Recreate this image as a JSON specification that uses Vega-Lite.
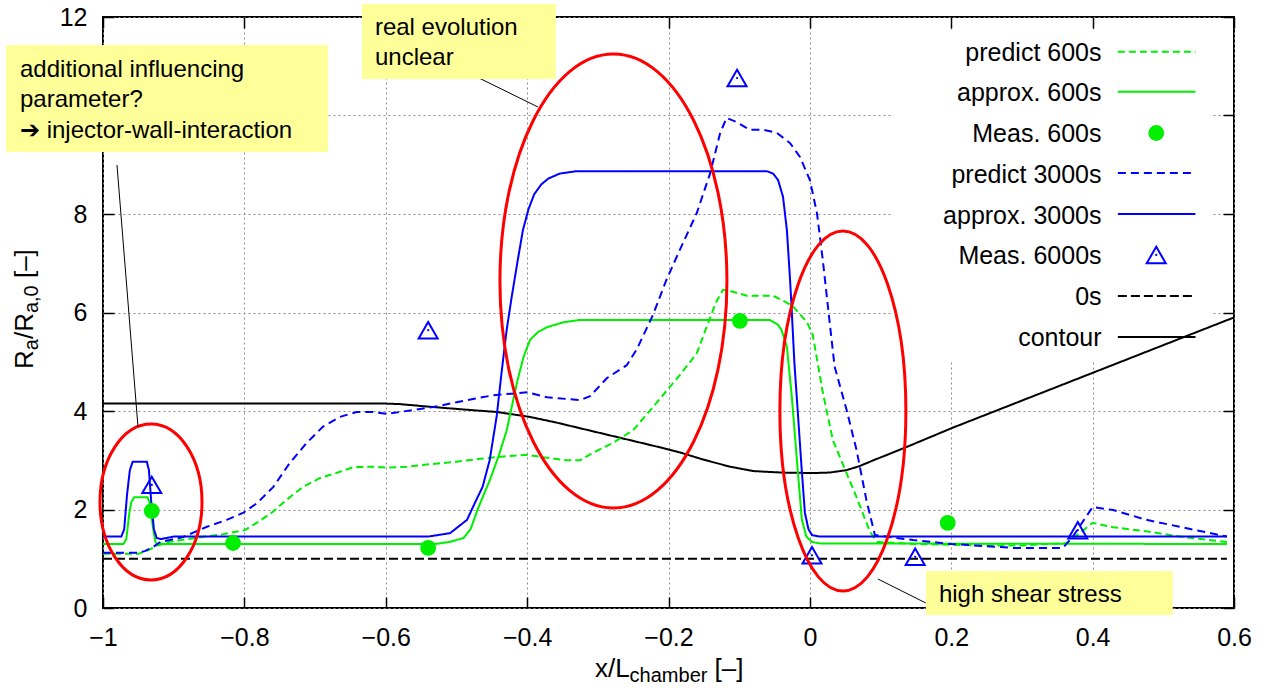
{
  "$schema": "https://vega.github.io/schema/vega-lite/v6.json",
  "width": 1131,
  "height": 591,
  "autosize": {"type": "none"},
  "padding": {"left": 103, "top": 17, "right": 37, "bottom": 80},
  "background": "#ffffff",
  "config": {
    "view": {"stroke": "#000000", "strokeWidth": 2},
    "font": "Liberation Sans",
    "axis": {
      "labelFont": "Liberation Sans", "labelFontSize": 25, "labelColor": "#000000",
      "labelFlush": false, "labelOverlap": false, "domain": false,
      "tickColor": "#000000", "tickWidth": 1.5, "tickSize": -11,
      "gridColor": "#8c8c8c", "gridDash": [2, 3], "gridWidth": 1
    },
    "axisBottom": {"labelPadding": 28},
    "axisLeft": {"labelPadding": 27}
  },
  "datasets": {
    "curves": [
      {"series": "0s", "x": -1, "y": 1}, {"series": "0s", "x": 0.59, "y": 1},
      {"series": "contour", "x": -1, "y": 4.15}, {"series": "contour", "x": -0.6, "y": 4.15}, {"series": "contour", "x": -0.58, "y": 4.14}, {"series": "contour", "x": -0.533, "y": 4.08}, {"series": "contour", "x": -0.48, "y": 4.02}, {"series": "contour", "x": -0.443, "y": 3.98}, {"series": "contour", "x": -0.396, "y": 3.88}, {"series": "contour", "x": -0.36, "y": 3.77}, {"series": "contour", "x": -0.325, "y": 3.65}, {"series": "contour", "x": -0.29, "y": 3.53}, {"series": "contour", "x": -0.255, "y": 3.41}, {"series": "contour", "x": -0.22, "y": 3.29}, {"series": "contour", "x": -0.184, "y": 3.16}, {"series": "contour", "x": -0.15, "y": 3.01}, {"series": "contour", "x": -0.113, "y": 2.87}, {"series": "contour", "x": -0.08, "y": 2.78}, {"series": "contour", "x": -0.04, "y": 2.75}, {"series": "contour", "x": 0.004, "y": 2.74}, {"series": "contour", "x": 0.028, "y": 2.75}, {"series": "contour", "x": 0.052, "y": 2.8}, {"series": "contour", "x": 0.07, "y": 2.88}, {"series": "contour", "x": 0.09, "y": 3.0}, {"series": "contour", "x": 0.137, "y": 3.27}, {"series": "contour", "x": 0.202, "y": 3.66}, {"series": "contour", "x": 0.6, "y": 5.9},
      {"series": "predict 600s", "x": -1, "y": 1.1}, {"series": "predict 600s", "x": -0.95, "y": 1.1}, {"series": "predict 600s", "x": -0.935, "y": 1.18}, {"series": "predict 600s", "x": -0.92, "y": 1.3}, {"series": "predict 600s", "x": -0.9, "y": 1.36}, {"series": "predict 600s", "x": -0.86, "y": 1.44}, {"series": "predict 600s", "x": -0.83, "y": 1.5}, {"series": "predict 600s", "x": -0.8, "y": 1.58}, {"series": "predict 600s", "x": -0.78, "y": 1.75}, {"series": "predict 600s", "x": -0.76, "y": 1.95}, {"series": "predict 600s", "x": -0.74, "y": 2.2}, {"series": "predict 600s", "x": -0.717, "y": 2.46}, {"series": "predict 600s", "x": -0.693, "y": 2.64}, {"series": "predict 600s", "x": -0.67, "y": 2.74}, {"series": "predict 600s", "x": -0.646, "y": 2.86}, {"series": "predict 600s", "x": -0.62, "y": 2.87}, {"series": "predict 600s", "x": -0.6, "y": 2.85}, {"series": "predict 600s", "x": -0.57, "y": 2.87}, {"series": "predict 600s", "x": -0.537, "y": 2.92}, {"series": "predict 600s", "x": -0.5, "y": 2.97}, {"series": "predict 600s", "x": -0.467, "y": 3.03}, {"series": "predict 600s", "x": -0.43, "y": 3.08}, {"series": "predict 600s", "x": -0.4, "y": 3.11}, {"series": "predict 600s", "x": -0.372, "y": 3.05}, {"series": "predict 600s", "x": -0.345, "y": 3.0}, {"series": "predict 600s", "x": -0.325, "y": 3.0}, {"series": "predict 600s", "x": -0.307, "y": 3.15}, {"series": "predict 600s", "x": -0.279, "y": 3.35}, {"series": "predict 600s", "x": -0.25, "y": 3.61}, {"series": "predict 600s", "x": -0.222, "y": 4.08}, {"series": "predict 600s", "x": -0.184, "y": 4.73}, {"series": "predict 600s", "x": -0.16, "y": 5.17}, {"series": "predict 600s", "x": -0.146, "y": 5.71}, {"series": "predict 600s", "x": -0.133, "y": 6.2}, {"series": "predict 600s", "x": -0.123, "y": 6.46}, {"series": "predict 600s", "x": -0.109, "y": 6.42}, {"series": "predict 600s", "x": -0.089, "y": 6.34}, {"series": "predict 600s", "x": -0.052, "y": 6.34}, {"series": "predict 600s", "x": -0.042, "y": 6.27}, {"series": "predict 600s", "x": -0.024, "y": 6.13}, {"series": "predict 600s", "x": -0.004, "y": 5.8}, {"series": "predict 600s", "x": 0.004, "y": 5.55}, {"series": "predict 600s", "x": 0.018, "y": 4.4}, {"series": "predict 600s", "x": 0.0325, "y": 3.41}, {"series": "predict 600s", "x": 0.066, "y": 2.25}, {"series": "predict 600s", "x": 0.085, "y": 1.55}, {"series": "predict 600s", "x": 0.095, "y": 1.34}, {"series": "predict 600s", "x": 0.15, "y": 1.3}, {"series": "predict 600s", "x": 0.25, "y": 1.27}, {"series": "predict 600s", "x": 0.3, "y": 1.27}, {"series": "predict 600s", "x": 0.363, "y": 1.32}, {"series": "predict 600s", "x": 0.38, "y": 1.5}, {"series": "predict 600s", "x": 0.4, "y": 1.73}, {"series": "predict 600s", "x": 0.429, "y": 1.64}, {"series": "predict 600s", "x": 0.48, "y": 1.55}, {"series": "predict 600s", "x": 0.523, "y": 1.45}, {"series": "predict 600s", "x": 0.59, "y": 1.34},
      {"series": "approx. 600s", "x": -1, "y": 1.3}, {"series": "approx. 600s", "x": -0.971, "y": 1.3}, {"series": "approx. 600s", "x": -0.967, "y": 1.4}, {"series": "approx. 600s", "x": -0.963, "y": 1.9}, {"series": "approx. 600s", "x": -0.96, "y": 2.15}, {"series": "approx. 600s", "x": -0.956, "y": 2.25}, {"series": "approx. 600s", "x": -0.937, "y": 2.25}, {"series": "approx. 600s", "x": -0.933, "y": 2.1}, {"series": "approx. 600s", "x": -0.93, "y": 1.7}, {"series": "approx. 600s", "x": -0.926, "y": 1.35}, {"series": "approx. 600s", "x": -0.922, "y": 1.27}, {"series": "approx. 600s", "x": -0.915, "y": 1.3}, {"series": "approx. 600s", "x": -0.53, "y": 1.3}, {"series": "approx. 600s", "x": -0.51, "y": 1.34}, {"series": "approx. 600s", "x": -0.49, "y": 1.42}, {"series": "approx. 600s", "x": -0.48, "y": 1.6}, {"series": "approx. 600s", "x": -0.47, "y": 2.0}, {"series": "approx. 600s", "x": -0.46, "y": 2.35}, {"series": "approx. 600s", "x": -0.4526, "y": 2.6}, {"series": "approx. 600s", "x": -0.44, "y": 3.1}, {"series": "approx. 600s", "x": -0.429, "y": 3.6}, {"series": "approx. 600s", "x": -0.414, "y": 4.6}, {"series": "approx. 600s", "x": -0.405, "y": 5.1}, {"series": "approx. 600s", "x": -0.396, "y": 5.44}, {"series": "approx. 600s", "x": -0.385, "y": 5.6}, {"series": "approx. 600s", "x": -0.372, "y": 5.7}, {"series": "approx. 600s", "x": -0.349, "y": 5.8}, {"series": "approx. 600s", "x": -0.325, "y": 5.85}, {"series": "approx. 600s", "x": -0.057, "y": 5.85}, {"series": "approx. 600s", "x": -0.045, "y": 5.75}, {"series": "approx. 600s", "x": -0.04, "y": 5.64}, {"series": "approx. 600s", "x": -0.0325, "y": 5.3}, {"series": "approx. 600s", "x": -0.0255, "y": 4.28}, {"series": "approx. 600s", "x": -0.018, "y": 2.94}, {"series": "approx. 600s", "x": -0.0113, "y": 1.79}, {"series": "approx. 600s", "x": -0.005, "y": 1.45}, {"series": "approx. 600s", "x": 0.003, "y": 1.34}, {"series": "approx. 600s", "x": 0.015, "y": 1.31}, {"series": "approx. 600s", "x": 0.59, "y": 1.3},
      {"series": "predict 3000s", "x": -1, "y": 1.12}, {"series": "predict 3000s", "x": -0.95, "y": 1.12}, {"series": "predict 3000s", "x": -0.94, "y": 1.16}, {"series": "predict 3000s", "x": -0.929, "y": 1.24}, {"series": "predict 3000s", "x": -0.919, "y": 1.34}, {"series": "predict 3000s", "x": -0.887, "y": 1.44}, {"series": "predict 3000s", "x": -0.853, "y": 1.65}, {"series": "predict 3000s", "x": -0.825, "y": 1.79}, {"series": "predict 3000s", "x": -0.802, "y": 1.93}, {"series": "predict 3000s", "x": -0.782, "y": 2.13}, {"series": "predict 3000s", "x": -0.759, "y": 2.46}, {"series": "predict 3000s", "x": -0.736, "y": 2.94}, {"series": "predict 3000s", "x": -0.712, "y": 3.35}, {"series": "predict 3000s", "x": -0.689, "y": 3.68}, {"series": "predict 3000s", "x": -0.665, "y": 3.88}, {"series": "predict 3000s", "x": -0.641, "y": 3.98}, {"series": "predict 3000s", "x": -0.618, "y": 3.98}, {"series": "predict 3000s", "x": -0.598, "y": 3.94}, {"series": "predict 3000s", "x": -0.58, "y": 3.98}, {"series": "predict 3000s", "x": -0.533, "y": 4.08}, {"series": "predict 3000s", "x": -0.485, "y": 4.22}, {"series": "predict 3000s", "x": -0.448, "y": 4.32}, {"series": "predict 3000s", "x": -0.4, "y": 4.38}, {"series": "predict 3000s", "x": -0.372, "y": 4.28}, {"series": "predict 3000s", "x": -0.325, "y": 4.22}, {"series": "predict 3000s", "x": -0.311, "y": 4.3}, {"series": "predict 3000s", "x": -0.287, "y": 4.67}, {"series": "predict 3000s", "x": -0.259, "y": 4.93}, {"series": "predict 3000s", "x": -0.245, "y": 5.25}, {"series": "predict 3000s", "x": -0.222, "y": 5.95}, {"series": "predict 3000s", "x": -0.203, "y": 6.66}, {"series": "predict 3000s", "x": -0.184, "y": 7.27}, {"series": "predict 3000s", "x": -0.16, "y": 8.02}, {"series": "predict 3000s", "x": -0.141, "y": 8.83}, {"series": "predict 3000s", "x": -0.127, "y": 9.64}, {"series": "predict 3000s", "x": -0.118, "y": 9.95}, {"series": "predict 3000s", "x": -0.104, "y": 9.87}, {"series": "predict 3000s", "x": -0.085, "y": 9.71}, {"series": "predict 3000s", "x": -0.066, "y": 9.71}, {"series": "predict 3000s", "x": -0.047, "y": 9.65}, {"series": "predict 3000s", "x": -0.028, "y": 9.44}, {"series": "predict 3000s", "x": -0.014, "y": 9.16}, {"series": "predict 3000s", "x": 0.0, "y": 8.69}, {"series": "predict 3000s", "x": 0.01, "y": 8.02}, {"series": "predict 3000s", "x": 0.018, "y": 7.1}, {"series": "predict 3000s", "x": 0.028, "y": 5.8}, {"series": "predict 3000s", "x": 0.035, "y": 4.9}, {"series": "predict 3000s", "x": 0.052, "y": 4.02}, {"series": "predict 3000s", "x": 0.066, "y": 3.21}, {"series": "predict 3000s", "x": 0.08, "y": 2.19}, {"series": "predict 3000s", "x": 0.092, "y": 1.48}, {"series": "predict 3000s", "x": 0.146, "y": 1.38}, {"series": "predict 3000s", "x": 0.2, "y": 1.3}, {"series": "predict 3000s", "x": 0.287, "y": 1.22}, {"series": "predict 3000s", "x": 0.358, "y": 1.22}, {"series": "predict 3000s", "x": 0.372, "y": 1.45}, {"series": "predict 3000s", "x": 0.4, "y": 2.05}, {"series": "predict 3000s", "x": 0.429, "y": 1.99}, {"series": "predict 3000s", "x": 0.476, "y": 1.79}, {"series": "predict 3000s", "x": 0.523, "y": 1.65}, {"series": "predict 3000s", "x": 0.59, "y": 1.45},
      {"series": "approx. 3000s", "x": -1, "y": 1.45}, {"series": "approx. 3000s", "x": -0.974, "y": 1.45}, {"series": "approx. 3000s", "x": -0.97, "y": 1.6}, {"series": "approx. 3000s", "x": -0.966, "y": 2.3}, {"series": "approx. 3000s", "x": -0.962, "y": 2.8}, {"series": "approx. 3000s", "x": -0.958, "y": 2.97}, {"series": "approx. 3000s", "x": -0.938, "y": 2.97}, {"series": "approx. 3000s", "x": -0.935, "y": 2.8}, {"series": "approx. 3000s", "x": -0.932, "y": 2.2}, {"series": "approx. 3000s", "x": -0.928, "y": 1.6}, {"series": "approx. 3000s", "x": -0.924, "y": 1.42}, {"series": "approx. 3000s", "x": -0.918, "y": 1.4}, {"series": "approx. 3000s", "x": -0.9, "y": 1.45}, {"series": "approx. 3000s", "x": -0.54, "y": 1.45}, {"series": "approx. 3000s", "x": -0.509, "y": 1.52}, {"series": "approx. 3000s", "x": -0.485, "y": 1.79}, {"series": "approx. 3000s", "x": -0.475, "y": 2.1}, {"series": "approx. 3000s", "x": -0.463, "y": 2.46}, {"series": "approx. 3000s", "x": -0.453, "y": 3.0}, {"series": "approx. 3000s", "x": -0.443, "y": 3.9}, {"series": "approx. 3000s", "x": -0.436, "y": 4.8}, {"series": "approx. 3000s", "x": -0.429, "y": 5.64}, {"series": "approx. 3000s", "x": -0.422, "y": 6.3}, {"series": "approx. 3000s", "x": -0.414, "y": 7.0}, {"series": "approx. 3000s", "x": -0.406, "y": 7.67}, {"series": "approx. 3000s", "x": -0.398, "y": 8.1}, {"series": "approx. 3000s", "x": -0.39, "y": 8.4}, {"series": "approx. 3000s", "x": -0.38, "y": 8.6}, {"series": "approx. 3000s", "x": -0.37, "y": 8.72}, {"series": "approx. 3000s", "x": -0.354, "y": 8.82}, {"series": "approx. 3000s", "x": -0.33, "y": 8.87}, {"series": "approx. 3000s", "x": -0.061, "y": 8.87}, {"series": "approx. 3000s", "x": -0.052, "y": 8.82}, {"series": "approx. 3000s", "x": -0.045, "y": 8.69}, {"series": "approx. 3000s", "x": -0.038, "y": 8.35}, {"series": "approx. 3000s", "x": -0.0325, "y": 7.67}, {"series": "approx. 3000s", "x": -0.028, "y": 6.66}, {"series": "approx. 3000s", "x": -0.0255, "y": 6.0}, {"series": "approx. 3000s", "x": -0.022, "y": 5.0}, {"series": "approx. 3000s", "x": -0.017, "y": 3.96}, {"series": "approx. 3000s", "x": -0.012, "y": 2.9}, {"series": "approx. 3000s", "x": -0.007, "y": 1.93}, {"series": "approx. 3000s", "x": -0.002, "y": 1.6}, {"series": "approx. 3000s", "x": 0.003, "y": 1.48}, {"series": "approx. 3000s", "x": 0.014, "y": 1.45}, {"series": "approx. 3000s", "x": 0.59, "y": 1.45}
    ],
    "meas600": [
      {"x": -0.931, "y": 1.97}, {"x": -0.816, "y": 1.32}, {"x": -0.54, "y": 1.22}, {"x": -0.099, "y": 5.83}, {"x": 0.195, "y": 1.73}
    ],
    "meas6000": [
      {"x": -0.931, "y": 2.5}, {"x": -0.54, "y": 5.64}, {"x": -0.103, "y": 10.76}, {"x": 0.003, "y": 1.07}, {"x": 0.149, "y": 1.04}, {"x": 0.379, "y": 1.58}
    ]
  },
  "resolve": {"axis": {"x": "independent", "y": "independent"}},
  "layer": [
    {
      "data": {"values": [{}]},
      "mark": {"type": "rect", "fill": "#ffffff"},
      "encoding": {
        "x": {"datum": 0.1174, "type": "quantitative", "scale": {"domain": [-1, 0.6], "nice": false, "zero": false}, "axis": {"orient": "top", "values": [-1, -0.8, -0.6, -0.4, -0.2, 0, 0.2, 0.4, 0.6], "labels": false, "grid": false, "title": null}},
        "x2": {"datum": 0.5686},
        "y": {"datum": 11.736, "type": "quantitative", "scale": {"domain": [0, 12], "nice": false, "zero": false}, "axis": {"orient": "right", "values": [0, 2, 4, 6, 8, 10, 12], "labels": false, "grid": false, "title": null}},
        "y2": {"datum": 5.036}
      }
    },
    {
      "data": {"name": "curves"},
      "mark": {"type": "line", "strokeWidth": 2},
      "encoding": {
        "x": {"field": "x", "type": "quantitative", "scale": {"domain": [-1, 0.6], "nice": false, "zero": false}, "axis": {"orient": "bottom", "values": [-1, -0.8, -0.6, -0.4, -0.2, 0, 0.2, 0.4, 0.6], "format": "~g", "grid": true, "title": null}},
        "y": {"field": "y", "type": "quantitative", "scale": {"domain": [0, 12], "nice": false, "zero": false}, "axis": {"orient": "left", "values": [0, 2, 4, 6, 8, 10, 12], "format": "~g", "labelExpr": "datum.value == 10 ? '' : datum.label", "grid": true, "title": null}},
        "color": {"field": "series", "type": "nominal", "legend": null, "scale": {"domain": ["0s", "contour", "predict 600s", "approx. 600s", "predict 3000s", "approx. 3000s"], "range": ["#000000", "#000000", "#00ee00", "#00ee00", "#0000ff", "#0000ff"]}},
        "strokeDash": {"field": "series", "type": "nominal", "legend": null, "scale": {"domain": ["0s", "contour", "predict 600s", "approx. 600s", "predict 3000s", "approx. 3000s"], "range": [[9, 4], [1, 0], [7, 4], [1, 0], [8, 5], [1, 0]]}}
      }
    },
    {
      "data": {"name": "meas600"},
      "mark": {"type": "circle", "color": "#00ee00", "size": 250, "opacity": 1},
      "encoding": {
        "x": {"field": "x", "type": "quantitative", "scale": {"domain": [-1, 0.6], "nice": false, "zero": false}, "axis": null},
        "y": {"field": "y", "type": "quantitative", "scale": {"domain": [0, 12], "nice": false, "zero": false}, "axis": null}
      }
    },
    {
      "data": {"name": "meas6000"},
      "mark": {"type": "point", "shape": "triangle-up", "filled": false, "stroke": "#0000ff", "strokeWidth": 2, "size": 361, "opacity": 1},
      "encoding": {
        "x": {"field": "x", "type": "quantitative", "scale": {"domain": [-1, 0.6], "nice": false, "zero": false}, "axis": null},
        "y": {"field": "y", "type": "quantitative", "scale": {"domain": [0, 12], "nice": false, "zero": false}, "axis": null}
      }
    },
    {
      "data": {"name": "meas6000"},
      "mark": {"type": "circle", "color": "#0000ff", "size": 5, "opacity": 1},
      "encoding": {
        "x": {"field": "x", "type": "quantitative", "scale": {"domain": [-1, 0.6], "nice": false, "zero": false}, "axis": null},
        "y": {"field": "y", "type": "quantitative", "scale": {"domain": [0, 12], "nice": false, "zero": false}, "axis": null}
      }
    },
    {
      "data": {"values": [{}]},
      "mark": {"type": "text", "align": "right", "baseline": "alphabetic", "font": "Liberation Sans", "fontSize": 25, "lineHeight": 40.76, "color": "#000000"},
      "encoding": {
        "x": {"datum": 0.4126, "type": "quantitative", "scale": {"domain": [-1, 0.6], "nice": false, "zero": false}, "axis": null},
        "y": {"datum": 11.113, "type": "quantitative", "scale": {"domain": [0, 12], "nice": false, "zero": false}, "axis": null},
        "text": {"value": ["predict 600s", "approx. 600s", "Meas. 600s", "predict 3000s", "approx. 3000s", "Meas. 6000s", "0s", "contour"]}
      }
    },
    {
      "data": {"values": [{}]},
      "mark": {"type": "rule", "stroke": "#00ee00", "strokeWidth": 2, "strokeDash": [7, 4]},
      "encoding": {
        "x": {"datum": 0.4357, "type": "quantitative", "scale": {"domain": [-1, 0.6], "nice": false, "zero": false}, "axis": null},
        "x2": {"datum": 0.5455},
        "y": {"datum": 11.296, "type": "quantitative", "scale": {"domain": [0, 12], "nice": false, "zero": false}, "axis": null}
      }
    },
    {
      "data": {"values": [{}]},
      "mark": {"type": "rule", "stroke": "#00ee00", "strokeWidth": 2},
      "encoding": {
        "x": {"datum": 0.4357, "type": "quantitative", "scale": {"domain": [-1, 0.6], "nice": false, "zero": false}, "axis": null},
        "x2": {"datum": 0.5455},
        "y": {"datum": 10.483, "type": "quantitative", "scale": {"domain": [0, 12], "nice": false, "zero": false}, "axis": null}
      }
    },
    {
      "data": {"values": [{}]},
      "mark": {"type": "circle", "color": "#00ee00", "size": 250, "opacity": 1},
      "encoding": {
        "x": {"datum": 0.49, "type": "quantitative", "scale": {"domain": [-1, 0.6], "nice": false, "zero": false}, "axis": null},
        "y": {"datum": 9.645, "type": "quantitative", "scale": {"domain": [0, 12], "nice": false, "zero": false}, "axis": null}
      }
    },
    {
      "data": {"values": [{}]},
      "mark": {"type": "rule", "stroke": "#0000ff", "strokeWidth": 2, "strokeDash": [8, 5]},
      "encoding": {
        "x": {"datum": 0.4357, "type": "quantitative", "scale": {"domain": [-1, 0.6], "nice": false, "zero": false}, "axis": null},
        "x2": {"datum": 0.5455},
        "y": {"datum": 8.832, "type": "quantitative", "scale": {"domain": [0, 12], "nice": false, "zero": false}, "axis": null}
      }
    },
    {
      "data": {"values": [{}]},
      "mark": {"type": "rule", "stroke": "#0000ff", "strokeWidth": 2},
      "encoding": {
        "x": {"datum": 0.4357, "type": "quantitative", "scale": {"domain": [-1, 0.6], "nice": false, "zero": false}, "axis": null},
        "x2": {"datum": 0.5455},
        "y": {"datum": 8.0, "type": "quantitative", "scale": {"domain": [0, 12], "nice": false, "zero": false}, "axis": null}
      }
    },
    {
      "data": {"values": [{}]},
      "mark": {"type": "point", "shape": "triangle-up", "filled": false, "stroke": "#0000ff", "strokeWidth": 2, "size": 361, "opacity": 1},
      "encoding": {
        "x": {"datum": 0.49, "type": "quantitative", "scale": {"domain": [-1, 0.6], "nice": false, "zero": false}, "axis": null},
        "y": {"datum": 7.168, "type": "quantitative", "scale": {"domain": [0, 12], "nice": false, "zero": false}, "axis": null}
      }
    },
    {
      "data": {"values": [{}]},
      "mark": {"type": "circle", "color": "#0000ff", "size": 5, "opacity": 1},
      "encoding": {
        "x": {"datum": 0.49, "type": "quantitative", "scale": {"domain": [-1, 0.6], "nice": false, "zero": false}, "axis": null},
        "y": {"datum": 7.168, "type": "quantitative", "scale": {"domain": [0, 12], "nice": false, "zero": false}, "axis": null}
      }
    },
    {
      "data": {"values": [{}]},
      "mark": {"type": "rule", "stroke": "#000000", "strokeWidth": 2, "strokeDash": [9, 4]},
      "encoding": {
        "x": {"datum": 0.4357, "type": "quantitative", "scale": {"domain": [-1, 0.6], "nice": false, "zero": false}, "axis": null},
        "x2": {"datum": 0.5455},
        "y": {"datum": 6.335, "type": "quantitative", "scale": {"domain": [0, 12], "nice": false, "zero": false}, "axis": null}
      }
    },
    {
      "data": {"values": [{}]},
      "mark": {"type": "rule", "stroke": "#000000", "strokeWidth": 2},
      "encoding": {
        "x": {"datum": 0.4357, "type": "quantitative", "scale": {"domain": [-1, 0.6], "nice": false, "zero": false}, "axis": null},
        "x2": {"datum": 0.5455},
        "y": {"datum": 5.503, "type": "quantitative", "scale": {"domain": [0, 12], "nice": false, "zero": false}, "axis": null}
      }
    },
    {
      "data": {"values": [{}]},
      "mark": {"type": "point", "shape": "M -0.654 0 A 0.654 1 0 1 1 0.654 0 A 0.654 1 0 1 1 -0.654 0 Z", "filled": false, "stroke": "#ff0000", "strokeWidth": 3, "size": 24336, "opacity": 1},
      "encoding": {
        "x": {"datum": -0.9321, "type": "quantitative", "scale": {"domain": [-1, 0.6], "nice": false, "zero": false}, "axis": null},
        "y": {"datum": 2.152, "type": "quantitative", "scale": {"domain": [0, 12], "nice": false, "zero": false}, "axis": null}
      }
    },
    {
      "data": {"values": [{}]},
      "mark": {"type": "point", "shape": "M -0.5 0 A 0.5 1 0 1 1 0.5 0 A 0.5 1 0 1 1 -0.5 0 Z", "filled": false, "stroke": "#ff0000", "strokeWidth": 3, "size": 206116, "opacity": 1},
      "encoding": {
        "x": {"datum": -0.2779, "type": "quantitative", "scale": {"domain": [-1, 0.6], "nice": false, "zero": false}, "axis": null},
        "y": {"datum": 6.64, "type": "quantitative", "scale": {"domain": [0, 12], "nice": false, "zero": false}, "axis": null}
      }
    },
    {
      "data": {"values": [{}]},
      "mark": {"type": "point", "shape": "M -0.35 0 A 0.35 1 0 1 1 0.35 0 A 0.35 1 0 1 1 -0.35 0 Z", "filled": false, "stroke": "#ff0000", "strokeWidth": 3, "size": 129600, "opacity": 1},
      "encoding": {
        "x": {"datum": 0.0467, "type": "quantitative", "scale": {"domain": [-1, 0.6], "nice": false, "zero": false}, "axis": null},
        "y": {"datum": 4.0, "type": "quantitative", "scale": {"domain": [0, 12], "nice": false, "zero": false}, "axis": null}
      }
    },
    {
      "data": {"values": [{}]},
      "mark": {"type": "rule", "stroke": "#000000", "strokeWidth": 1},
      "encoding": {
        "x": {"datum": -0.9802, "type": "quantitative", "scale": {"domain": [-1, 0.6], "nice": false, "zero": false}, "axis": null},
        "x2": {"datum": -0.9505},
        "y": {"datum": 8.995, "type": "quantitative", "scale": {"domain": [0, 12], "nice": false, "zero": false}, "axis": null},
        "y2": {"datum": 3.675}
      }
    },
    {
      "data": {"values": [{}]},
      "mark": {"type": "rule", "stroke": "#000000", "strokeWidth": 1},
      "encoding": {
        "x": {"datum": -0.471, "type": "quantitative", "scale": {"domain": [-1, 0.6], "nice": false, "zero": false}, "axis": null},
        "x2": {"datum": -0.3847},
        "y": {"datum": 10.782, "type": "quantitative", "scale": {"domain": [0, 12], "nice": false, "zero": false}, "axis": null},
        "y2": {"datum": 10.173}
      }
    },
    {
      "data": {"values": [{}]},
      "mark": {"type": "rule", "stroke": "#000000", "strokeWidth": 1},
      "encoding": {
        "x": {"datum": 0.0962, "type": "quantitative", "scale": {"domain": [-1, 0.6], "nice": false, "zero": false}, "axis": null},
        "x2": {"datum": 0.1641},
        "y": {"datum": 0.589, "type": "quantitative", "scale": {"domain": [0, 12], "nice": false, "zero": false}, "axis": null},
        "y2": {"datum": 0.1015}
      }
    },
    {
      "data": {"values": [{}]},
      "mark": {"type": "rect", "fill": "#ffff99"},
      "encoding": {
        "x": {"datum": -1.1372, "type": "quantitative", "scale": {"domain": [-1, 0.6], "nice": false, "zero": false}, "axis": null},
        "x2": {"datum": -0.6818},
        "y": {"datum": 11.432, "type": "quantitative", "scale": {"domain": [0, 12], "nice": false, "zero": false}, "axis": null},
        "y2": {"datum": 9.259}
      }
    },
    {
      "data": {"values": [{}]},
      "mark": {"type": "rect", "fill": "#ffff99"},
      "encoding": {
        "x": {"datum": -0.6337, "type": "quantitative", "scale": {"domain": [-1, 0.6], "nice": false, "zero": false}, "axis": null},
        "x2": {"datum": -0.3593},
        "y": {"datum": 12.264, "type": "quantitative", "scale": {"domain": [0, 12], "nice": false, "zero": false}, "axis": null},
        "y2": {"datum": 10.741}
      }
    },
    {
      "data": {"values": [{}]},
      "mark": {"type": "rect", "fill": "#ffff99"},
      "encoding": {
        "x": {"datum": 0.1641, "type": "quantitative", "scale": {"domain": [-1, 0.6], "nice": false, "zero": false}, "axis": null},
        "x2": {"datum": 0.5134},
        "y": {"datum": 0.7513, "type": "quantitative", "scale": {"domain": [0, 12], "nice": false, "zero": false}, "axis": null},
        "y2": {"datum": -0.1421}
      }
    },
    {
      "data": {"values": [{}]},
      "mark": {"type": "text", "align": "left", "baseline": "alphabetic", "font": "Liberation Sans", "fontSize": 24, "color": "#000000"},
      "encoding": {
        "x": {"datum": -1.1174, "type": "quantitative", "scale": {"domain": [-1, 0.6], "nice": false, "zero": false}, "axis": null},
        "y": {"datum": 10.782, "type": "quantitative", "scale": {"domain": [0, 12], "nice": false, "zero": false}, "axis": null},
        "text": {"value": "additional influencing"}
      }
    },
    {
      "data": {"values": [{}]},
      "mark": {"type": "text", "align": "left", "baseline": "alphabetic", "font": "Liberation Sans", "fontSize": 24, "color": "#000000"},
      "encoding": {
        "x": {"datum": -1.1174, "type": "quantitative", "scale": {"domain": [-1, 0.6], "nice": false, "zero": false}, "axis": null},
        "y": {"datum": 10.173, "type": "quantitative", "scale": {"domain": [0, 12], "nice": false, "zero": false}, "axis": null},
        "text": {"value": "parameter?"}
      }
    },
    {
      "data": {"values": [{}]},
      "mark": {"type": "text", "align": "left", "baseline": "alphabetic", "font": "Liberation Sans", "fontSize": 24, "color": "#000000"},
      "encoding": {
        "x": {"datum": -1.1174, "type": "quantitative", "scale": {"domain": [-1, 0.6], "nice": false, "zero": false}, "axis": null},
        "y": {"datum": 9.553, "type": "quantitative", "scale": {"domain": [0, 12], "nice": false, "zero": false}, "axis": null},
        "text": {"value": "➔ injector-wall-interaction"}
      }
    },
    {
      "data": {"values": [{}]},
      "mark": {"type": "text", "align": "left", "baseline": "alphabetic", "font": "Liberation Sans", "fontSize": 24, "lineHeight": 30, "color": "#000000"},
      "encoding": {
        "x": {"datum": -0.6153, "type": "quantitative", "scale": {"domain": [-1, 0.6], "nice": false, "zero": false}, "axis": null},
        "y": {"datum": 11.635, "type": "quantitative", "scale": {"domain": [0, 12], "nice": false, "zero": false}, "axis": null},
        "text": {"value": ["real evolution", "unclear"]}
      }
    },
    {
      "data": {"values": [{}]},
      "mark": {"type": "text", "align": "left", "baseline": "alphabetic", "font": "Liberation Sans", "fontSize": 24, "color": "#000000"},
      "encoding": {
        "x": {"datum": 0.1825, "type": "quantitative", "scale": {"domain": [-1, 0.6], "nice": false, "zero": false}, "axis": null},
        "y": {"datum": 0.1218, "type": "quantitative", "scale": {"domain": [0, 12], "nice": false, "zero": false}, "axis": null},
        "text": {"value": "high shear stress"}
      }
    },
    {
      "data": {"values": [{}]},
      "mark": {"type": "text", "align": "left", "baseline": "alphabetic", "font": "Liberation Sans", "fontSize": 26, "color": "#000000"},
      "encoding": {
        "x": {"datum": -0.3041, "type": "quantitative", "scale": {"domain": [-1, 0.6], "nice": false, "zero": false}, "axis": null},
        "y": {"datum": -1.401, "type": "quantitative", "scale": {"domain": [0, 12], "nice": false, "zero": false}, "axis": null},
        "text": {"value": "x/L"}
      }
    },
    {
      "data": {"values": [{}]},
      "mark": {"type": "text", "align": "left", "baseline": "alphabetic", "font": "Liberation Sans", "fontSize": 20, "color": "#000000"},
      "encoding": {
        "x": {"datum": -0.255, "type": "quantitative", "scale": {"domain": [-1, 0.6], "nice": false, "zero": false}, "axis": null},
        "y": {"datum": -1.503, "type": "quantitative", "scale": {"domain": [0, 12], "nice": false, "zero": false}, "axis": null},
        "text": {"value": "chamber"}
      }
    },
    {
      "data": {"values": [{}]},
      "mark": {"type": "text", "align": "left", "baseline": "alphabetic", "font": "Liberation Sans", "fontSize": 26, "color": "#000000"},
      "encoding": {
        "x": {"datum": -0.1348, "type": "quantitative", "scale": {"domain": [-1, 0.6], "nice": false, "zero": false}, "axis": null},
        "y": {"datum": -1.401, "type": "quantitative", "scale": {"domain": [0, 12], "nice": false, "zero": false}, "axis": null},
        "text": {"value": "[–]"}
      }
    },
    {
      "data": {"values": [{}]},
      "mark": {"type": "text", "align": "left", "baseline": "alphabetic", "angle": 270, "font": "Liberation Sans", "fontSize": 26, "color": "#000000"},
      "encoding": {
        "x": {"datum": -1.099, "type": "quantitative", "scale": {"domain": [-1, 0.6], "nice": false, "zero": false}, "axis": null},
        "y": {"datum": 4.853, "type": "quantitative", "scale": {"domain": [0, 12], "nice": false, "zero": false}, "axis": null},
        "text": {"value": "R"}
      }
    },
    {
      "data": {"values": [{}]},
      "mark": {"type": "text", "align": "left", "baseline": "alphabetic", "angle": 270, "font": "Liberation Sans", "fontSize": 20, "color": "#000000"},
      "encoding": {
        "x": {"datum": -1.0919, "type": "quantitative", "scale": {"domain": [-1, 0.6], "nice": false, "zero": false}, "axis": null},
        "y": {"datum": 5.235, "type": "quantitative", "scale": {"domain": [0, 12], "nice": false, "zero": false}, "axis": null},
        "text": {"value": "a"}
      }
    },
    {
      "data": {"values": [{}]},
      "mark": {"type": "text", "align": "left", "baseline": "alphabetic", "angle": 270, "font": "Liberation Sans", "fontSize": 26, "color": "#000000"},
      "encoding": {
        "x": {"datum": -1.099, "type": "quantitative", "scale": {"domain": [-1, 0.6], "nice": false, "zero": false}, "axis": null},
        "y": {"datum": 5.46, "type": "quantitative", "scale": {"domain": [0, 12], "nice": false, "zero": false}, "axis": null},
        "text": {"value": "/R"}
      }
    },
    {
      "data": {"values": [{}]},
      "mark": {"type": "text", "align": "left", "baseline": "alphabetic", "angle": 270, "font": "Liberation Sans", "fontSize": 20, "color": "#000000"},
      "encoding": {
        "x": {"datum": -1.0919, "type": "quantitative", "scale": {"domain": [-1, 0.6], "nice": false, "zero": false}, "axis": null},
        "y": {"datum": 5.988, "type": "quantitative", "scale": {"domain": [0, 12], "nice": false, "zero": false}, "axis": null},
        "text": {"value": "a,0"}
      }
    },
    {
      "data": {"values": [{}]},
      "mark": {"type": "text", "align": "left", "baseline": "alphabetic", "angle": 270, "font": "Liberation Sans", "fontSize": 26, "color": "#000000"},
      "encoding": {
        "x": {"datum": -1.099, "type": "quantitative", "scale": {"domain": [-1, 0.6], "nice": false, "zero": false}, "axis": null},
        "y": {"datum": 6.699, "type": "quantitative", "scale": {"domain": [0, 12], "nice": false, "zero": false}, "axis": null},
        "text": {"value": "[–]"}
      }
    }
  ]
}
